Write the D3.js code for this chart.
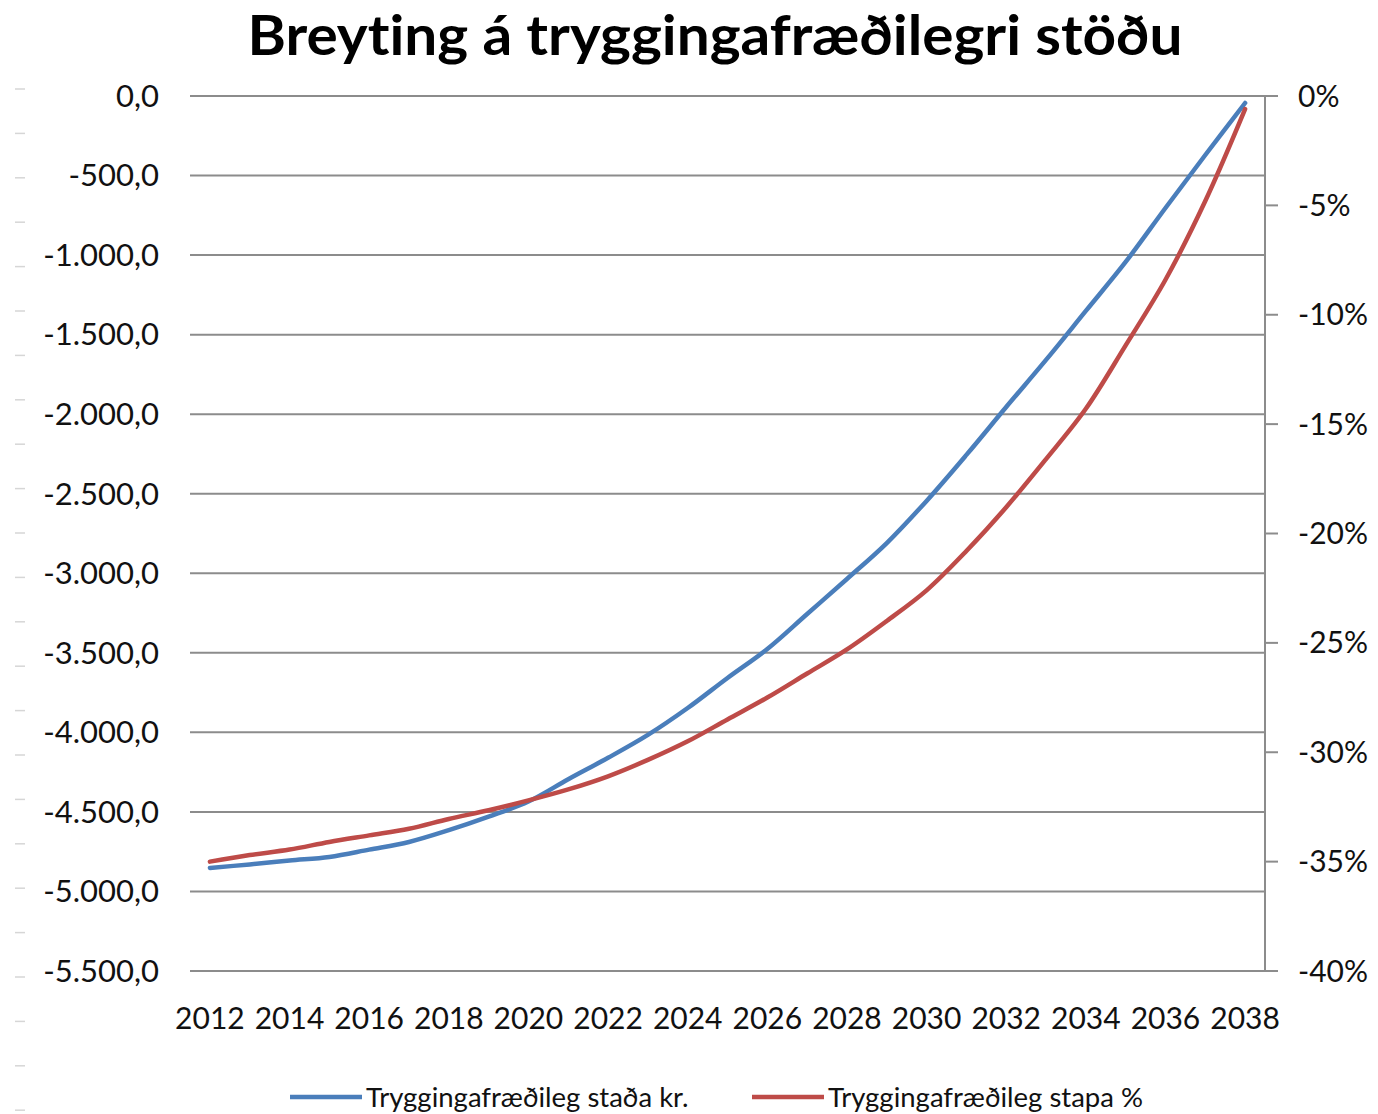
<!DOCTYPE html>
<html lang="is">
<head>
  <meta charset="UTF-8">
  <title>Breyting á tryggingafræðilegri stöðu</title>
  <script src="https://d3js.org/d3.v7.min.js"></script>
  <style>
    * { padding: 0; margin: 0; box-sizing: border-box; }
    body { background: #fff; }
    svg text { font-variant-ligatures: none; }
  </style>
</head>
<body>
  <div id="container"></div>
  <script>
    // ár og tvær raðir
    const years = d3.range(2012, 2039);
    const stadaKr = [
      -4852, -4830, -4805, -4783, -4737, -4689, -4615, -4530, -4435, -4295,
      -4160, -4016, -3847, -3658, -3476, -3256, -3036, -2810, -2545, -2256,
      -1955, -1659, -1351, -1043, -704, -371, -44
    ];
    const stapaPct = [
      -35.0, -34.7, -34.45, -34.1, -33.8, -33.5, -33.05, -32.65, -32.2, -31.7,
      -31.1, -30.35, -29.5, -28.5, -27.5, -26.4, -25.3, -24.0, -22.6, -20.8,
      -18.8, -16.6, -14.3, -11.4, -8.4, -4.8, -0.6
    ];
    const leftTicks = d3.range(0, -5501, -500);
    const rightTicks = d3.range(0, -41, -5);
    const xLabels = years.filter(y => y % 2 === 0);
    const seriesNames = ["Tryggingafræðileg staða kr.", "Tryggingafræðileg stapa %"];
    const colors = ["#4a7ebb", "#be4b48"];

    const width = 1378, height = 1114;
    const margin = { top: 96, right: 113, bottom: 143, left: 190 };
    const fontFam = "Lato, 'Open Sans', sans-serif";

    const svg = d3.select("#container").append("svg")
      .attr("width", width)
      .attr("height", height)
      .attr("font-family", fontFam);

    const x = d3.scaleBand()
      .domain(years)
      .range([margin.left, width - margin.right]);
    const xc = d => x(d) + x.bandwidth() / 2;

    const yL = d3.scaleLinear().domain([-5500, 0]).range([height - margin.bottom, margin.top]);
    const yR = d3.scaleLinear().domain([-40, 0]).range([height - margin.bottom, margin.top]);

    // íslenskt snið: 1.000,0
    const fmtL = v => {
      const s = d3.format(",.1f")(v);
      return s.replace(/,/g, "#").replace(".", ",").replace(/#/g, ".").replace("−", "-");
    };

    // faint dashes down the left edge of the scan
    svg.append("g")
      .selectAll("line")
      .data(d3.range(24))
      .join("line")
      .attr("x1", 15).attr("x2", 25)
      .attr("y1", i => 89 + i * 44.4).attr("y2", i => 89 + i * 44.4)
      .attr("stroke", "#d6d6d6").attr("stroke-width", 1.5);

    // gridlines + left axis labels
    const gl = svg.append("g");
    gl.selectAll("line")
      .data(leftTicks)
      .join("line")
      .attr("x1", margin.left).attr("x2", width - margin.right)
      .attr("y1", d => yL(d)).attr("y2", d => yL(d))
      .attr("stroke", "#8c8c8c").attr("stroke-width", 2);
    gl.selectAll("text")
      .data(leftTicks)
      .join("text")
      .attr("x", 159)
      .attr("y", d => yL(d))
      .attr("dy", "0.35em")
      .attr("text-anchor", "end")
      .attr("font-size", 31)
      .attr("fill", "#111")
      .text(fmtL);

    // right axis
    const gr = svg.append("g");
    gr.append("line")
      .attr("x1", width - margin.right).attr("x2", width - margin.right)
      .attr("y1", yR(0)).attr("y2", yR(-40))
      .attr("stroke", "#8c8c8c").attr("stroke-width", 2);
    gr.selectAll("line.tk")
      .data(rightTicks)
      .join("line")
      .attr("class", "tk")
      .attr("x1", width - margin.right).attr("x2", width - margin.right + 13)
      .attr("y1", d => yR(d)).attr("y2", d => yR(d))
      .attr("stroke", "#8c8c8c").attr("stroke-width", 2);
    gr.selectAll("text")
      .data(rightTicks)
      .join("text")
      .attr("x", 1298)
      .attr("y", d => yR(d))
      .attr("dy", "0.35em")
      .attr("font-size", 30)
      .attr("fill", "#111")
      .text(d => `${d}%`);

    // x labels
    svg.append("g").selectAll("text")
      .data(xLabels)
      .join("text")
      .attr("x", d => xc(d))
      .attr("y", 1018)
      .attr("dy", "0.35em")
      .attr("text-anchor", "middle")
      .attr("font-size", 30)
      .attr("fill", "#111")
      .text(d => d);

    // lines
    const lineL = d3.line()
      .x((d, i) => xc(years[i]))
      .y(d => yL(d))
      .curve(d3.curveCatmullRom.alpha(0.5));
    const lineR = d3.line()
      .x((d, i) => xc(years[i]))
      .y(d => yR(d))
      .curve(d3.curveCatmullRom.alpha(0.5));

    svg.append("path")
      .datum(stadaKr)
      .attr("d", lineL)
      .attr("fill", "none")
      .attr("stroke", colors[0])
      .attr("stroke-width", 4.5)
      .attr("stroke-linejoin", "round")
      .attr("stroke-linecap", "round");
    svg.append("path")
      .datum(stapaPct)
      .attr("d", lineR)
      .attr("fill", "none")
      .attr("stroke", colors[1])
      .attr("stroke-width", 4.5)
      .attr("stroke-linejoin", "round")
      .attr("stroke-linecap", "round");

    // title
    svg.append("text")
      .attr("x", 715)
      .attr("y", 55)
      .attr("text-anchor", "middle")
      .attr("font-size", 55)
      .attr("font-weight", "bold")
      .attr("fill", "#000")
      .attr("textLength", 935)
      .attr("lengthAdjust", "spacingAndGlyphs")
      .text("Breyting á tryggingafræðilegri stöðu");

    // legend
    const legX = [290, 752];
    const leg = svg.append("g").selectAll("g")
      .data(seriesNames)
      .join("g")
      .attr("transform", (d, i) => `translate(${legX[i]},1097)`);
    leg.append("line")
      .attr("x1", 0).attr("x2", 72)
      .attr("stroke", (d, i) => colors[i])
      .attr("stroke-width", 4.5);
    leg.append("text")
      .attr("x", 76)
      .attr("dy", "0.35em")
      .attr("font-size", 27.5)
      .attr("fill", "#111")
      .text(d => d);
  </script>
</body>
</html>
